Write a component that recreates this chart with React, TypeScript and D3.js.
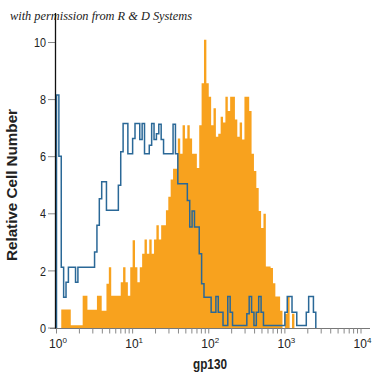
import React from "react";
import * as d3 from "d3";

// Histogram bins: 32 bins per decade, starting at 10^0
const BINS_PER_DECADE = 32;

const orangeCounts = [
  0, 0, 0.65, 0.65, 0.65, 0.65, 0.1, 0.1, 0.1, 0.1,
  0.1, 1.13, 1.13, 0.64, 0.64, 0.64, 0.64, 1.13, 1.13, 0.6,
  0.6, 1.55, 2.13, 1.13, 1.13, 1.13, 1.13, 1.6, 2.13, 1.6,
  1.13, 2.13, 3.07, 2.13, 1.6, 2.13, 2.6, 3.1, 2.6, 3.1,
  2.6, 3.1, 3.6, 3.1, 3.6, 3.6, 4.12, 4.6, 5.2, 5.58,
  5.58, 6.64, 6.1, 7.1, 6.64, 7.1, 6.64, 6.1, 6.1, 5.6,
  7.1, 8.57, 10.1, 8.57, 8.1, 7.1, 7.7, 6.7, 6.8, 7.4,
  7.2, 8.1, 7.6, 8.1, 8.1, 7.3, 6.7, 7.2, 6.6, 8.1,
  8.1, 7.6, 6.1, 5.5, 4.9, 4.1, 3.5, 4.0, 2.15, 2.15,
  2.1, 1.57, 1.1, 1.1, 0.6, 0, 0.5, 1.1, 0, 0.5,
];

const blueCounts = [
  8.16, 6.02, 2.13, 1.08, 1.6, 2.13, 2.13, 2.13, 1.6, 2.13,
  2.13, 2.13, 2.13, 2.13, 2.13, 2.13, 2.66, 3.6, 4.53, 5.12,
  5.12, 4.12, 4.12, 4.12, 4.12, 4.12, 5.0, 6.17, 7.16, 7.16,
  6.1, 6.1, 6.64, 7.16, 7.16, 6.6, 7.16, 6.1, 6.1, 6.4,
  7.16, 6.6, 6.8, 7.14, 6.6, 6.1, 6.1, 6.1, 6.1, 7.14,
  6.1, 5.05, 5.05, 5.05, 5.05, 4.47, 3.54, 4.1, 3.54, 3.54,
  2.6, 1.55, 1.08, 1.08, 1.08, 0.55, 0.55, 1.1, 0.55, 0.55,
  0.09, 0.09, 1.1, 0.55, 0.09, 0.09, 0.09, 0.09, 0.09, 0.09,
  0.5, 1.1, 0.55, 0.09, 0.55, 1.1, 0.55, 0.09, 0.09, 0.09,
  0.09, 0.09, 0.09, 0.09, 0.09, 0.09, 0.55, 1.1, 1.1, 0.55,
  0.55, 0.09, 0.09, 0.09, 0.09, 0.55, 1.1, 1.1, 0.55,
];

const yTicks = [0, 2, 4, 6, 8, 10];
const xDecades = [0, 1, 2, 3, 4];

const ORANGE = "#f8a21e";
const BLUE = "#2a6897";
const SANS = "'Liberation Sans', Arial, sans-serif";

export default function App() {
  const x = d3.scaleLog().domain([1, 1e4]).range([56.5, 361]);
  const y = d3.scaleLinear().domain([0, 10]).range([328, 42.5]);

  const edge = (i: number) => Math.pow(10, i / BINS_PER_DECADE);

  type P = { v: number; c: number };
  const orangePts: P[] = orangeCounts.map((c, i) => ({ v: edge(i), c }));
  orangePts.push({ v: edge(orangeCounts.length), c: 0 });
  const area = d3
    .area<P>()
    .curve(d3.curveStepAfter)
    .x((d) => x(d.v))
    .y0(y(0))
    .y1((d) => y(d.c));

  const bluePts: P[] = [{ v: edge(0), c: 0 }];
  blueCounts.forEach((c, i) => bluePts.push({ v: edge(i), c }));
  bluePts.push({ v: edge(blueCounts.length), c: 0 });
  const line = d3
    .line<P>()
    .curve(d3.curveStepAfter)
    .x((d) => x(d.v))
    .y((d) => y(d.c));

  const minorTicks: number[] = [];
  for (let dcd = 0; dcd < 4; dcd++) {
    for (let m = 2; m <= 9; m++) minorTicks.push(m * Math.pow(10, dcd));
  }

  const axisY = y(0) + 0.5;
  const axisX = 55.5;

  return (
    <svg
      width={375}
      height={375}
      style={{ position: "absolute", left: 0, top: 0, background: "#fff" }}
    >
      <rect x={0} y={0} width={375} height={375} fill="#fff" />
      <text
        x={10}
        y={20}
        fontFamily="'Liberation Serif', 'DejaVu Serif', serif"
        fontStyle="italic"
        fontSize={12}
        fill="#222"
        textLength={182}
        lengthAdjust="spacingAndGlyphs"
      >
        with permission from R &amp; D Systems
      </text>

      <path d={area(orangePts) || ""} fill={ORANGE} />
      <path d={line(bluePts) || ""} fill="none" stroke={BLUE} strokeWidth={1.5} />

      {/* x axis */}
      <line x1={50} x2={370} y1={axisY} y2={axisY} stroke="#777" strokeWidth={1} />
      {minorTicks.map((t) => (
        <line key={"m" + t} x1={x(t)} x2={x(t)} y1={axisY} y2={axisY + 5} stroke="#888" strokeWidth={1} />
      ))}
      {xDecades.map((dcd) => {
        const px = x(Math.pow(10, dcd));
        return (
          <g key={"d" + dcd}>
            <line x1={px} x2={px} y1={axisY} y2={axisY + 5} stroke="#888" strokeWidth={1} />
            <text
              x={px + 1.5}
              y={348}
              textAnchor="middle"
              fontFamily={SANS}
              fontSize={12}
              fill="#222"
            >
              10
              <tspan dy={-5} fontSize={8}>
                {dcd}
              </tspan>
            </text>
          </g>
        );
      })}

      {/* y axis */}
      {yTicks.map((t) => (
        <g key={"y" + t}>
          <line x1={48} x2={axisX} y1={y(t)} y2={y(t)} stroke="#888" strokeWidth={1} />
          <text
            x={46}
            y={y(t)}
            dy="0.36em"
            textAnchor="end"
            fontFamily={SANS}
            fontSize={13}
            fill="#222"
            textLength={t >= 10 ? 12 : 6}
            lengthAdjust="spacingAndGlyphs"
          >
            {t}
          </text>
        </g>
      ))}
      <line x1={axisX} x2={axisX} y1={13} y2={axisY} stroke="#111" strokeWidth={1.3} />

      <text
        x={193}
        y={369}
        fontFamily={SANS}
        fontWeight="bold"
        fontSize={15}
        fill="#222"
        textLength={34}
        lengthAdjust="spacingAndGlyphs"
      >
        gp130
      </text>
      <text
        transform="translate(17,185) rotate(-90)"
        x={-76}
        fontFamily={SANS}
        fontWeight="bold"
        fontSize={15}
        fill="#222"
        textLength={152}
        lengthAdjust="spacingAndGlyphs"
      >
        Relative Cell Number
      </text>
    </svg>
  );
}
